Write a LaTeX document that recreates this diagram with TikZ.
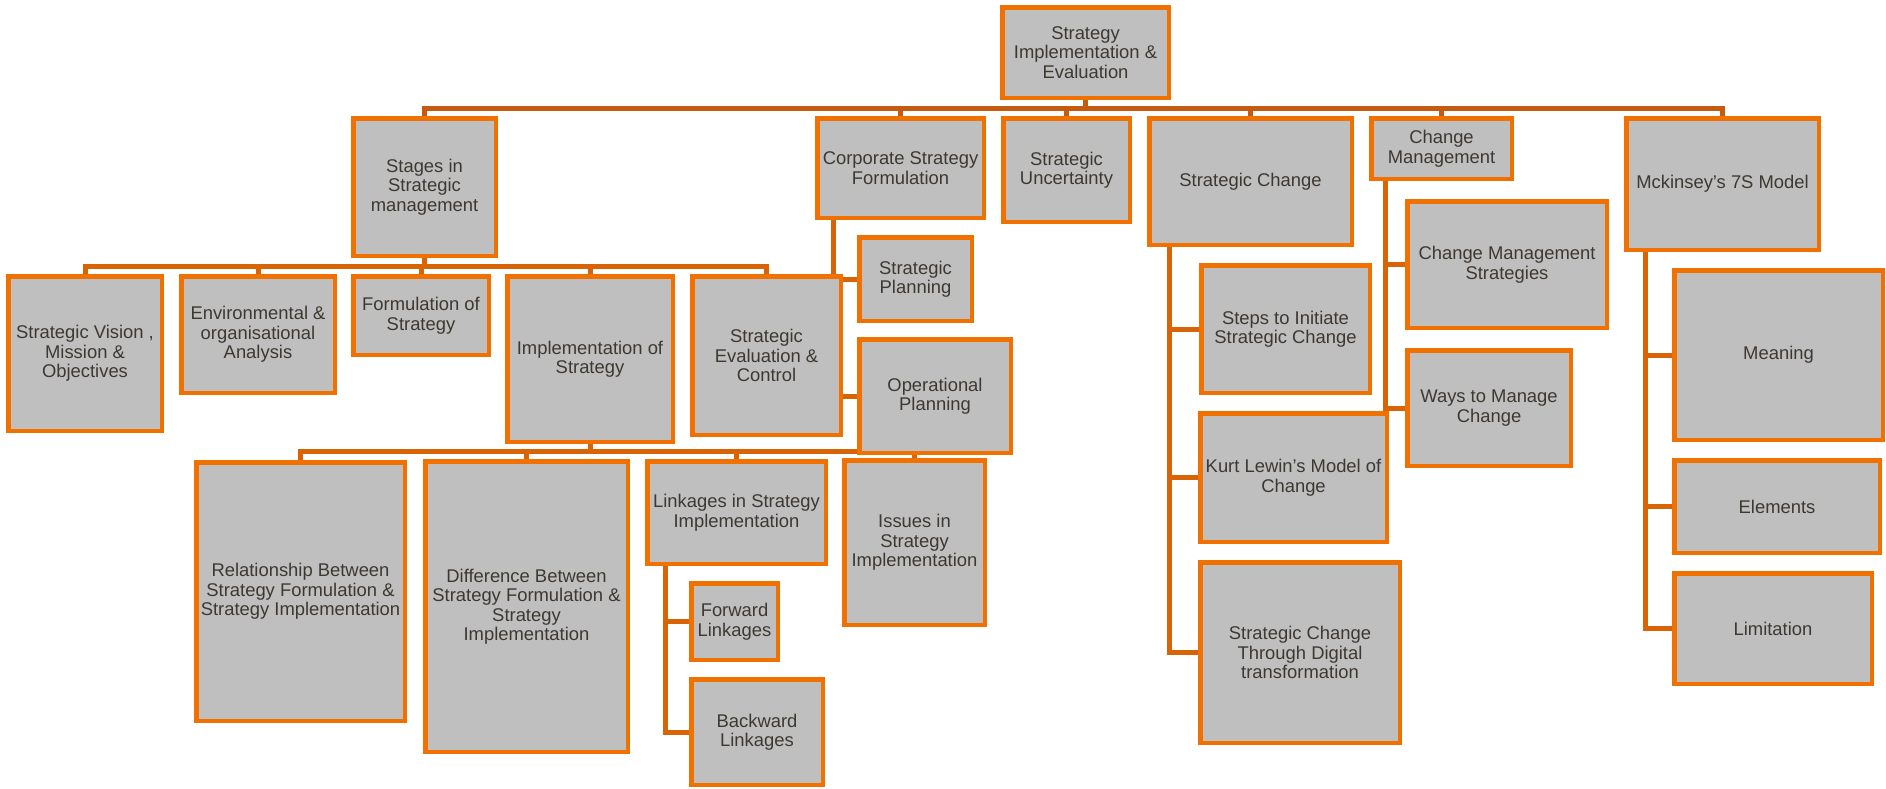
\documentclass[tikz,border=0pt]{standalone}
\usepackage{fontspec}
\setmainfont{Liberation Sans}
\pgfdeclarelayer{background}
\pgfsetlayers{background,main}
\definecolor{boxorange}{RGB}{240,112,0}
\definecolor{boxgray}{RGB}{191,191,191}
\definecolor{lineorange}{RGB}{216,100,6}
\definecolor{busorange}{RGB}{197,90,17}
\definecolor{txt}{RGB}{62,56,50}
\tikzset{
  box/.style={draw=boxorange, fill=boxgray, line width=4.5pt, inner sep=0pt,
    align=center, text=txt, font={\fontsize{18.4}{19.5}\selectfont}},
  conn/.style={draw=lineorange, line width=5pt},
  mainconn/.style={draw=busorange, line width=5pt},
}
\begin{document}
\begin{tikzpicture}[x=1pt,y=-1pt]
\useasboundingbox (0,0) rectangle (1886,788);

% root
\node[box, minimum width=166.5, minimum height=90.5] (root) at (1085.5,52.5) {Strategy\\Implementation \&\\Evaluation};

% first level
\node[box, minimum width=142.5, minimum height=137.5] (stages) at (424.5,187) {Stages in\\Strategic\\management};
\node[box, minimum width=166.5, minimum height=99.5] (corp) at (900.5,168) {Corporate Strategy\\Formulation};
\node[box, minimum width=126.5, minimum height=103.5] (uncert) at (1066.5,170) {Strategic\\Uncertainty};
\node[box, minimum width=202.5, minimum height=126.5] (schange) at (1250.5,181.5) {Strategic Change};
\node[box, minimum width=140.5, minimum height=60.5] (cmgmt) at (1441.5,148.5) {Change\\Management};
\node[box, minimum width=192.5, minimum height=131.5] (mck) at (1722.5,184) {Mckinsey’s 7S Model};

% stages in strategic management
\node[box, minimum width=153.5, minimum height=154.5] (vision) at (85,353.5) {Strategic Vision ,\\Mission \&\\Objectives};
\node[box, minimum width=153.5, minimum height=116.5] (env) at (258,334.5) {Environmental \&\\organisational\\Analysis};
\node[box, minimum width=135.5, minimum height=78.5] (form) at (421,315.5) {Formulation of\\Strategy};
\node[box, minimum width=165.5, minimum height=165.5] (impl) at (590,359) {Implementation of\\Strategy};
\node[box, minimum width=148.5, minimum height=158.5] (eval) at (766.5,355.5) {Strategic\\Evaluation \&\\Control};

% corporate strategy formulation
\node[box, minimum width=112.5, minimum height=83.5] (splan) at (915.5,279) {Strategic\\Planning};
\node[box, minimum width=151.5, minimum height=113.5] (oplan) at (935,396) {Operational\\Planning};

% implementation of strategy
\node[box, minimum width=208.5, minimum height=258.5] (rel) at (300.5,591.5) {Relationship Between\\Strategy Formulation \&\\Strategy Implementation};
\node[box, minimum width=202.5, minimum height=290.5] (diff) at (526.5,606.5) {Difference Between\\Strategy Formulation \&\\Strategy\\Implementation};
\node[box, minimum width=178.5, minimum height=102.5] (link) at (736.5,512.5) {Linkages in Strategy\\Implementation};
\node[box, minimum width=140.5, minimum height=164.5] (issues) at (914.5,542.5) {Issues in\\Strategy\\Implementation};

% linkages
\node[box, minimum width=86.5, minimum height=76.5] (fwd) at (734.5,621.5) {Forward\\Linkages};
\node[box, minimum width=131.5, minimum height=105.5] (bwd) at (757,732) {Backward\\Linkages};

% strategic change
\node[box, minimum width=168.5, minimum height=127.5] (steps) at (1285.5,329) {Steps to Initiate\\Strategic Change};
\node[box, minimum width=186.5, minimum height=128.5] (kurt) at (1293.5,477.5) {Kurt Lewin’s Model of\\Change};
\node[box, minimum width=199.5, minimum height=180.5] (digital) at (1300,652.5) {Strategic Change\\Through Digital\\transformation};

% change management
\node[box, minimum width=199.5, minimum height=126.5] (cms) at (1507,264.5) {Change Management\\Strategies};
\node[box, minimum width=163.5, minimum height=115.5] (ways) at (1489,408) {Ways to Manage\\Change};

% mckinsey 7S
\node[box, minimum width=208.5, minimum height=169.5] (meaning) at (1778.5,355) {Meaning};
\node[box, minimum width=205.5, minimum height=92.5] (elements) at (1777,506.5) {Elements};
\node[box, minimum width=197.5, minimum height=110.5] (limit) at (1773,628.5) {Limitation};

% bus levels
\coordinate (busA) at (0,108);
\coordinate (busB) at (0,266);
\coordinate (busC) at (0,451);

\begin{pgfonlayer}{background}
  % root to first level
  \foreach \c in {stages,corp,uncert,schange,cmgmt,mck}
    \draw[mainconn] (root.south) -- (root.south |- busA) -| (\c.north);
  % stages to its children
  \foreach \c in {vision,env,form,impl,eval}
    \draw[conn] (stages.south) -- (stages.south |- busB) -| (\c.north);
  % implementation to its children
  \foreach \c in {rel,diff,link,issues}
    \draw[conn] (impl.south) -- (impl.south |- busC) -| (\c.north);
  % side stems
  \draw[conn] ([xshift=18pt]corp.south west) |- (splan.west);
  \draw[conn] ([xshift=18pt]corp.south west) |- (oplan.west);
  \draw[conn] ([xshift=20pt]link.south west) |- (fwd.west);
  \draw[conn] ([xshift=20pt]link.south west) |- (bwd.west);
  \draw[conn] ([xshift=22pt]schange.south west) |- (steps.west);
  \draw[conn] ([xshift=22pt]schange.south west) |- (kurt.west);
  \draw[conn] ([xshift=22pt]schange.south west) |- (digital.west);
  \draw[conn] ([xshift=16pt]cmgmt.south west) |- (cms.west);
  \draw[conn] ([xshift=16pt]cmgmt.south west) |- (ways.west);
  \draw[conn] ([xshift=21pt]mck.south west) |- (meaning.west);
  \draw[conn] ([xshift=21pt]mck.south west) |- (elements.west);
  \draw[conn] ([xshift=21pt]mck.south west) |- (limit.west);
\end{pgfonlayer}
\end{tikzpicture}
\end{document}
